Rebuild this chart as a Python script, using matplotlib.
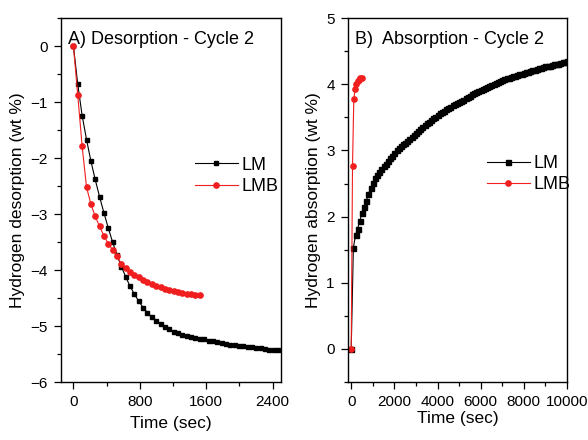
import numpy as np
import matplotlib.pyplot as plt
from matplotlib.ticker import MultipleLocator

plt.rcParams['font.family'] = ['Liberation Sans', 'DejaVu Sans']

# A) desorption, cycle 2
des_t = [0, 52, 105, 158, 210, 262, 315, 368, 420, 472, 525, 578, 630, 682, 735, 788,
         840, 892, 945, 998, 1050, 1102, 1155, 1208, 1260, 1312, 1365, 1418, 1470, 1522,
         1575, 1628, 1680, 1732, 1785, 1838, 1890, 1942, 1995, 2048, 2100, 2152, 2205,
         2258, 2310, 2362, 2415, 2468]
des_lm = [0, -0.68, -1.24, -1.67, -2.05, -2.38, -2.69, -2.98, -3.25, -3.50, -3.73, -3.94,
          -4.12, -4.29, -4.43, -4.56, -4.67, -4.76, -4.84, -4.91, -4.97, -5.02, -5.06,
          -5.10, -5.13, -5.16, -5.18, -5.20, -5.22, -5.23, -5.24, -5.26, -5.27, -5.29,
          -5.30, -5.32, -5.33, -5.34, -5.35, -5.36, -5.37, -5.38, -5.39, -5.40, -5.41,
          -5.42, -5.42, -5.43]
des_lmb = [0, -0.87, -1.79, -2.52, -2.82, -3.04, -3.22, -3.39, -3.53, -3.64, -3.75, -3.89,
           -3.97, -4.04, -4.09, -4.13, -4.17, -4.21, -4.25, -4.28, -4.31, -4.34, -4.36,
           -4.38, -4.40, -4.41, -4.42, -4.43, -4.44, -4.45]

# B) absorption, cycle 2
abs_t_lm = [0, 100, 200, 300, 400, 500, 600, 700, 800, 900, 1000, 1100, 1200, 1300, 1400,
            1500, 1600, 1700, 1800, 1900, 2000, 2100, 2200, 2300, 2400, 2500, 2600, 2700,
            2800, 2900, 3000, 3100, 3200, 3300, 3400, 3500, 3600, 3700, 3800, 3900, 4000,
            4100, 4200, 4300, 4400, 4500, 4600, 4700, 4800, 4900, 5000, 5100, 5200, 5300,
            5400, 5500, 5600, 5700, 5800, 5900, 6000, 6100, 6200, 6300, 6400, 6500, 6600,
            6700, 6800, 6900, 7000, 7100, 7200, 7300, 7400, 7500, 7600, 7700, 7800, 7900,
            8000, 8100, 8200, 8300, 8400, 8500, 8600, 8700, 8800, 8900, 9000, 9100, 9200,
            9300, 9400, 9500, 9600, 9700, 9800, 9900, 10000]
abs_lm = [0, 1.53, 1.72, 1.82, 1.94, 2.05, 2.14, 2.24, 2.34, 2.43, 2.51, 2.58, 2.63, 2.68,
          2.72, 2.76, 2.80, 2.84, 2.88, 2.92, 2.96, 3.00, 3.03, 3.06, 3.09, 3.12, 3.14,
          3.17, 3.20, 3.23, 3.26, 3.29, 3.32, 3.36, 3.38, 3.41, 3.43, 3.46, 3.49, 3.51,
          3.54, 3.56, 3.58, 3.60, 3.62, 3.64, 3.66, 3.68, 3.70, 3.71, 3.73, 3.75, 3.77,
          3.79, 3.81, 3.83, 3.85, 3.87, 3.89, 3.90, 3.92, 3.93, 3.95, 3.96, 3.98, 3.99,
          4.01, 4.02, 4.04, 4.05, 4.06, 4.08, 4.09, 4.10, 4.11, 4.12, 4.13, 4.14, 4.15,
          4.16, 4.17, 4.18, 4.19, 4.20, 4.21, 4.22, 4.23, 4.24, 4.25, 4.26, 4.27, 4.28,
          4.28, 4.29, 4.30, 4.30, 4.31, 4.32, 4.33, 4.34, 4.35]
abs_t_lmb = [0, 60, 120, 180, 240, 300, 360, 420, 480]
abs_lmb = [0, 2.76, 3.78, 3.93, 4.01, 4.05, 4.07, 4.09, 4.10]

fig = plt.figure(figsize=(5.88, 4.40), dpi=100)
ax1 = fig.add_axes([0.1037, 0.1318, 0.374, 0.827])
ax2 = fig.add_axes([0.5918, 0.1318, 0.3724, 0.827])

red = '#f01e1e'
ax1.plot(des_t, des_lm, '-s', color='black', lw=0.8, ms=3.5, label='LM')
ax1.plot(des_t[:len(des_lmb)], des_lmb, '-o', color=red, lw=0.8, ms=3.8, label='LMB')
ax2.plot(abs_t_lm, abs_lm, '-s', color='black', lw=0.8, ms=3.6, label='LM')
ax2.plot(abs_t_lmb, abs_lmb, '-o', color=red, lw=0.8, ms=3.8, label='LMB')

ax1.set_xlim(-150, 2500)
ax1.set_ylim(-6, 0.5)
ax1.xaxis.set_major_locator(MultipleLocator(800))
ax1.xaxis.set_minor_locator(MultipleLocator(400))
ax1.yaxis.set_major_locator(MultipleLocator(1))
ax1.yaxis.set_minor_locator(MultipleLocator(0.5))
ax1.set_xlabel('Time (sec)', fontsize=12.5, labelpad=5)
ax1.set_ylabel('Hydrogen desorption (wt %)', fontsize=12.5, labelpad=4)
ax1.text(0.03, 0.965, 'A) Desorption - Cycle 2', transform=ax1.transAxes,
         fontsize=13, va='top', ha='left')

ax2.set_xlim(-150, 10000)
ax2.set_ylim(-0.5, 5)
ax2.xaxis.set_major_locator(MultipleLocator(2000))
ax2.xaxis.set_minor_locator(MultipleLocator(1000))
ax2.yaxis.set_major_locator(MultipleLocator(1))
ax2.yaxis.set_minor_locator(MultipleLocator(0.5))
ax2.set_xlabel('Time (sec)', fontsize=12.5, labelpad=1)
ax2.set_ylabel('Hydrogen absorption (wt %)', fontsize=12.5, labelpad=4)
ax2.text(0.03, 0.965, 'B)  Absorption - Cycle 2', transform=ax2.transAxes,
         fontsize=13, va='top', ha='left')

for ax in (ax1, ax2):
    ax.tick_params(which='both', direction='out', top=False, right=False, labelsize=11)
    ax.tick_params(which='major', length=5, width=0.9, pad=4.5)
    ax.tick_params(which='minor', length=3, width=0.9)
    for s in ax.spines.values():
        s.set_linewidth(1.0)

ax1.legend(loc='center left', bbox_to_anchor=(0.575, 0.566), frameon=False, fontsize=13,
           handlelength=2.4, handletextpad=0.2, borderaxespad=0, labelspacing=0.25)
ax2.legend(loc='center left', bbox_to_anchor=(0.60, 0.571), frameon=False, fontsize=13,
           handlelength=2.4, handletextpad=0.2, borderaxespad=0, labelspacing=0.25)

fig.savefig('out.png', dpi=100)
